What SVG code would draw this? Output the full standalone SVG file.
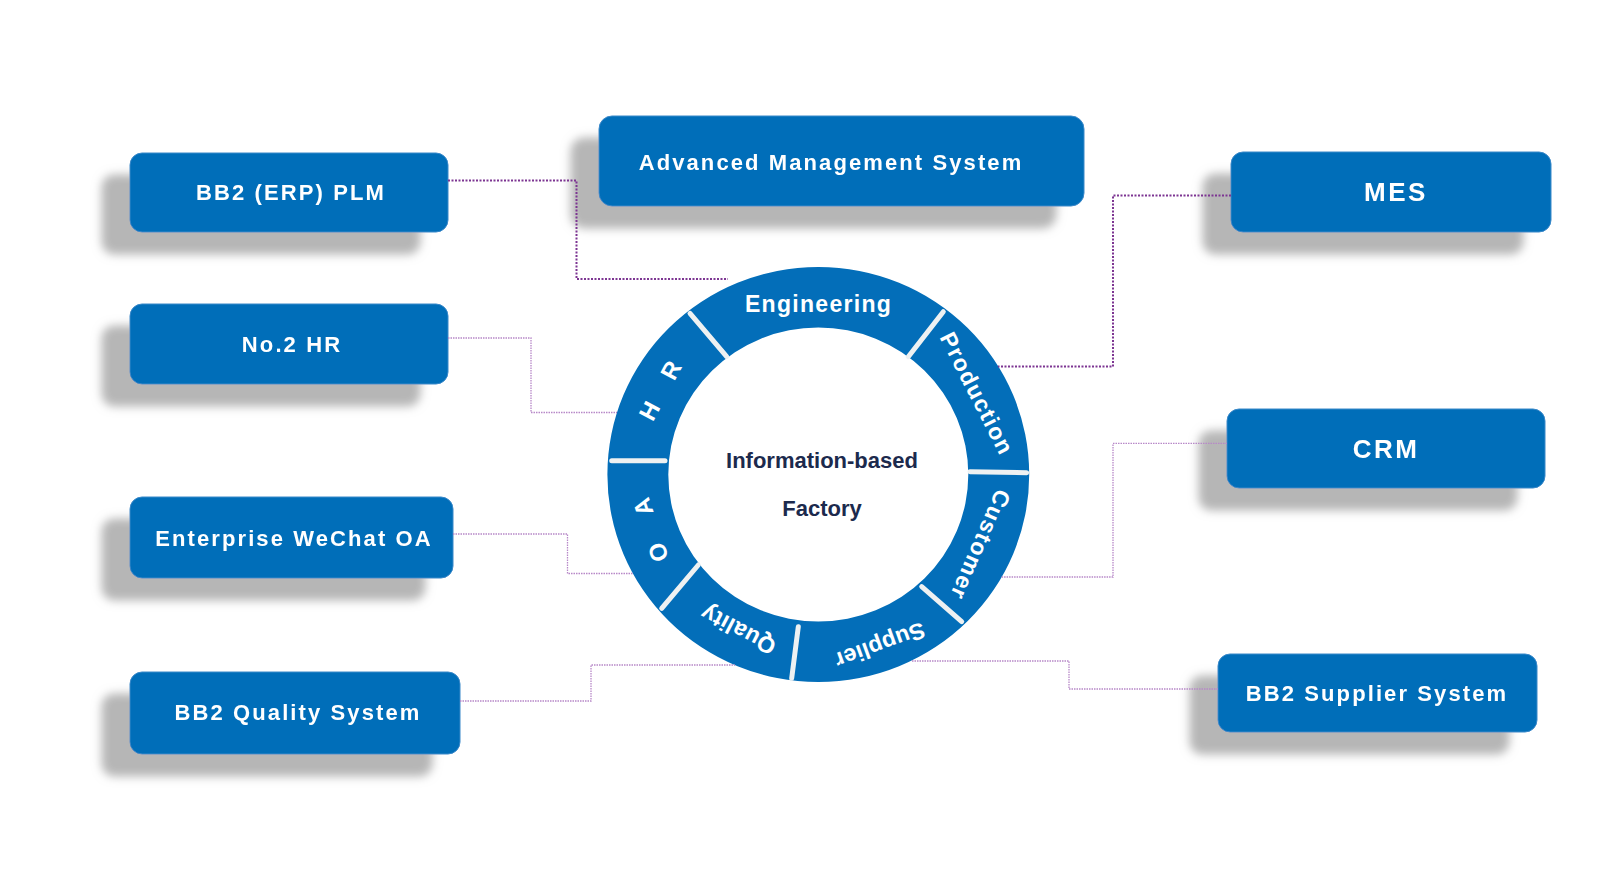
<svg xmlns="http://www.w3.org/2000/svg" width="1617" height="889" viewBox="0 0 1617 889">
<defs>
<filter id="sh" x="-20%" y="-30%" width="140%" height="180%">
<feGaussianBlur in="SourceAlpha" stdDeviation="5" result="b"/>
<feOffset in="b" dx="-28" dy="22" result="o"/>
<feFlood flood-color="#b6b6b6"/>
<feComposite in2="o" operator="in" result="s"/>
<feMerge><feMergeNode in="s"/><feMergeNode in="SourceGraphic"/></feMerge>
</filter>
</defs>
<style>
.box{fill:#036eb9;stroke:#3a88c9;stroke-width:1}
.bt{font-family:"Liberation Sans",Arial,sans-serif;font-weight:bold;font-size:22px;letter-spacing:2.1px;fill:#fff;text-anchor:middle}
.big{font-size:26px;letter-spacing:2.5px}
.rt{font-family:"Liberation Sans",Arial,sans-serif;font-weight:bold;font-size:23px;letter-spacing:1.3px;fill:#fff;text-anchor:middle;dominant-baseline:central}
.ct{font-family:"Liberation Sans",Arial,sans-serif;font-weight:bold;font-size:22px;fill:#1c2a4d;text-anchor:middle}
.sep{stroke:#eef1f2;stroke-width:5;stroke-linecap:round}
.cd{fill:none;stroke:#7d3592;stroke-width:2;stroke-dasharray:2 1.5}
.cl{fill:none;stroke:#b788c8;stroke-width:1.3;stroke-dasharray:1.5 1}
</style>
<rect width="1617" height="889" fill="#fff"/>

<g id="node-bb2-plm" filter="url(#sh)">
<rect class="box" x="130" y="153" width="318" height="79" rx="12"/>
<text class="bt" x="291" y="200">BB2 (ERP) PLM</text>
</g>
<g id="node-hr" filter="url(#sh)">
<rect class="box" x="130" y="304" width="318" height="80" rx="12"/>
<text class="bt" x="292" y="352">No.2 HR</text>
</g>
<g id="node-wechat" filter="url(#sh)">
<rect class="box" x="130" y="497" width="323" height="81" rx="12"/>
<text class="bt" x="294" y="546">Enterprise WeChat OA</text>
</g>
<g id="node-quality" filter="url(#sh)">
<rect class="box" x="130" y="672" width="330" height="82" rx="12"/>
<text class="bt" x="298" y="720">BB2 Quality System</text>
</g>
<g id="node-ams" filter="url(#sh)">
<rect class="box" x="599" y="116" width="485" height="90" rx="13"/>
<text class="bt" x="831" y="170">Advanced Management System</text>
</g>
<g id="node-mes" filter="url(#sh)">
<rect class="box" x="1231" y="152" width="320" height="80" rx="12"/>
<text class="bt big" x="1396" y="201">MES</text>
</g>
<g id="node-crm" filter="url(#sh)">
<rect class="box" x="1227" y="409" width="318" height="79" rx="12"/>
<text class="bt big" x="1386" y="458">CRM</text>
</g>
<g id="node-supplier" filter="url(#sh)">
<rect class="box" x="1218" y="654" width="319" height="78" rx="12"/>
<text class="bt" x="1377" y="701">BB2 Supplier System</text>
</g>

<g id="node-ring">
<path fill="#036eb9" fill-rule="evenodd" d="M607.4,474.5 a210.9,207.4 0 1,0 421.8,0 a210.9,207.4 0 1,0 -421.8,0 Z M668.3,474.5 a150,147 0 1,0 300,0 a150,147 0 1,0 -300,0 Z"/>
<line class="sep" x1="690" y1="313.3" x2="726.7" y2="356.7"/>
<line class="sep" x1="943.3" y1="311.7" x2="908.3" y2="356.7"/>
<line class="sep" x1="970" y1="471.7" x2="1026.7" y2="472.7"/>
<line class="sep" x1="921.7" y1="586.7" x2="961.7" y2="621.7"/>
<line class="sep" x1="798.3" y1="626.7" x2="791.7" y2="678.3"/>
<line class="sep" x1="698.3" y1="565" x2="661.7" y2="608.3"/>
<line class="sep" x1="611.7" y1="460.7" x2="665" y2="460.7"/>
<text class="rt" transform="translate(818.5,303.5)">Engineering</text>
<text class="rt" transform="translate(977,393.5) rotate(63)">Production</text>
<text class="rt" transform="translate(980.5,545) rotate(113.6)">Customer</text>
<text class="rt" transform="translate(880,645.5) rotate(160)" style="letter-spacing:0.3px">Supplier</text>
<text class="rt" transform="translate(738,630) rotate(207.7)" style="letter-spacing:0.5px">Quality</text>
<text class="rt" transform="translate(650.5,530) rotate(251.7)" style="font-size:24px;letter-spacing:0;word-spacing:24px">O A</text>
<text class="rt" transform="translate(660,390.5) rotate(298)" style="font-size:24px;letter-spacing:0;word-spacing:22px">H R</text>
<text class="ct" x="822" y="468">Information-based</text>
<text class="ct" x="822" y="516">Factory</text>
</g>

<g id="connectors">
<path class="cd" d="M448,180.5 H576.5 V279 H728"/>
<path class="cl" d="M448,338 H531 V412.5 H617"/>
<path class="cl" d="M453,534 H567.5 V573.5 H633"/>
<path class="cl" d="M460,701 H591 V665 H735"/>
<path class="cd" d="M1231,195.5 H1113 V366.5 H998"/>
<path class="cl" d="M1227,443.4 H1113 V577 H1001.5"/>
<path class="cl" d="M1218,689 H1069 V661 H911"/>
</g>
</svg>
